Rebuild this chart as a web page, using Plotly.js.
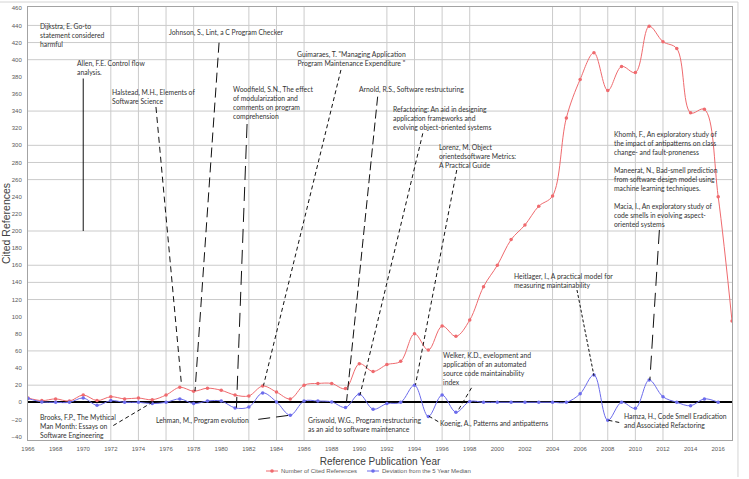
<!DOCTYPE html>
<html>
<head>
<meta charset="utf-8">
<script src="https://cdn.plot.ly/plotly-3.0.1.min.js"></script>
<style>
  html, body { margin: 0; padding: 0; background: #fff; }
  #chart { width: 749px; height: 479px; }
</style>
</head>
<body>
<div id="chart"></div>
<script>
// Publication years of the referenced works
const years = [
  1966, 1967, 1968, 1969, 1970, 1971, 1972, 1973, 1974, 1975,
  1976, 1977, 1978, 1979, 1980, 1981, 1982, 1983, 1984, 1985,
  1986, 1987, 1988, 1989, 1990, 1991, 1992, 1993, 1994, 1995,
  1996, 1997, 1998, 1999, 2000, 2001, 2002, 2003, 2004, 2005,
  2006, 2007, 2008, 2009, 2010, 2011, 2012, 2013, 2014, 2015,
  2016, 2017
];

// Number of cited references per publication year
const citedReferences = [
  5, 2, 4, 1.5, 8.5, 2, 6.5, 4, 5, 3,
  8.5, 17.5, 13, 16.5, 14, 8.5, 7.5, 19, 12, 4,
  20, 22, 22, 16, 45, 36, 44, 48, 80, 61,
  89, 77, 96, 135, 160, 190, 207, 229, 241, 332,
  377, 408, 364, 392, 385, 439, 421, 413, 338, 342,
  240, 95
];

// Deviation from the 5 year median (1966 - 2016)
const medianDeviation = [
  4.5, 0.5, 0, 0, 5, -3.5, 2, 0, 0, -1.5,
  0, 4, -1.5, 1.5, 1.5, -6.5, -5.5, 11, 0.5, -15,
  1.5, 1.5, 0.5, -6, 9.5, -8, -1.5, 0, 20, -16.5,
  8.5, -11.5, 1, 0, 0, 0, 0, 0, 0, 0,
  10, 32, -21, 0, -7, 26, 6.5, 0, -4, 4,
  0
];

const seriesNames = ['Number of Cited References', 'Deviation from the 5 Year Median'];

// Key publications called out on the chart
const noteTexts = {
  dijkstra:  'Dijkstra, E. Go-to<br>statement considered<br>harmful',
  allen:     'Allen, F.E. Control flow<br>analysis.',
  halstead:  'Halstead, M.H., Elements of<br>Software Science',
  johnson:   'Johnson, S., Lint, a C Program Checker',
  guimaraes: 'Guimaraes, T. "Managing Application<br>Program Maintenance Expenditure "',
  woodfield: 'Woodfield, S.N., The effect<br>of modularization and<br>comments on program<br>comprehension',
  arnold:    'Arnold, R.S., Software restructuring',
  refactor:  'Refactoring: An aid in designing<br>application frameworks and<br>evolving object-oriented systems',
  lorenz:    'Lorenz, M. Object<br>orientedsoftware Metrics:<br>A Practical Guide',
  khomh:     'Khomh, F., An exploratory study of<br>the impact of antipatterns on class<br>change- and fault-proneness',
  maneerat:  'Maneerat, N., Bad-smell prediction<br>from software design model using<br>machine learning techniques.',
  macia:     'Macia, I., An exploratory study of<br>code smells in evolving aspect-<br>oriented systems',
  heitlager: 'Heitlager, I., A practical model for<br>measuring maintainability',
  welker:    'Welker, K.D., evelopment and<br>application of an automated<br>source code maintainability<br>index',
  koenig:    'Koenig, A., Patterns and antipatterns',
  hamza:     'Hamza, H., Code Smell Eradication<br>and Associated Refactoring',
  brooks:    'Brooks, F.P., The Mythical<br>Man Month: Essays on<br>Software Engineering',
  lehman:    'Lehman, M., Program evolution',
  griswold:  'Griswold, W.G., Program restructuring<br>as an aid to software maintenance'
};

// ---- styling ----
const RED = '#ef6a6e';
const BLUE = '#6c6cec';
const GRID = '#cbcbcb';
const SANS = '"Liberation Sans", Arial, sans-serif';
const NOTE_FONT = { family: 'Lato, "Liberation Sans", sans-serif', size: 6.8, color: '#333333' };
const TICK_FONT = { family: SANS, size: 6, color: '#595959' };

// Label placement (year, value) of each call-out, anchored at its top edge
const notePlacement = [
  ['dijkstra', 1966.8, 445.7, 'left'],
  ['allen', 1969.45, 402, 'left'],
  ['halstead', 1972.0, 368, 'left'],
  ['johnson', 1976.15, 438.2, 'left'],
  ['guimaraes', 1989.45, 412.5, 'center'],
  ['woodfield', 1980.75, 371.6, 'left'],
  ['arnold', 1989.9, 371.6, 'left'],
  ['refactor', 1992.4, 348.3, 'left'],
  ['lorenz', 1995.7, 303.9, 'left'],
  ['khomh', 2008.4, 319.1, 'left'],
  ['maneerat', 2008.4, 277.6, 'left'],
  ['macia', 2008.4, 235.6, 'left'],
  ['heitlager', 2001.15, 153.3, 'left'],
  ['welker', 1996.0, 61.1, 'left'],
  ['koenig', 1995.8, -18.3, 'left'],
  ['hamza', 2009.1, -10.7, 'left'],
  ['brooks', 1966.8, -11.3, 'left'],
  ['lehman', 1975.2, -14.8, 'left'],
  ['griswold', 1986.2, -14.8, 'left']
];

const annotations = notePlacement.map(([key, x, y, anchor]) => ({
  text: noteTexts[key],
  x: x, y: y, xref: 'x', yref: 'y',
  xanchor: anchor, yanchor: 'top', align: anchor,
  showarrow: false, borderpad: 0,
  font: NOTE_FONT
}));

// Leader lines from each label to the year it refers to
const leaders = [
  [1970.0, 378, 1970.0, 200, 'solid'],
  [1975.27, 344.8, 1977.12, 20.2, '6px,4px'],
  [1979.84, 419.8, 1978.1, 13.2, '10px,5px'],
  [1981.87, 324.9, 1981.1, -6.3, '14px,7px'],
  [1988.67, 388, 1983.06, 19.6, '4px,3px'],
  [1991.33, 356.8, 1989.04, -5, '9px,4px'],
  [1994.6, 314, 1990.05, 8.5, '4px,3px'],
  [1997.06, 271.2, 1994.07, 20.5, '4px,3px'],
  [2011.74, 201.2, 2011.05, 26, '14px,7px'],
  [2005.77, 131.1, 2007.0, 31, '3px,2px'],
  [1998.13, 16.9, 1997.1, -11, '4px,3px'],
  [1995.72, -22.6, 1995.05, -16.3, '4px,3px'],
  [2008.05, -21, 2009.0, -24.1, '4px,3px'],
  [1972.18, -27.1, 1975.0, 0, '4px,3px'],
  [1982.68, -19.9, 1985.0, -15, '12px,6px']
];

// Grid lines drawn on the chart
const gridYears = [1972, 1974, 1976, 1978, 1982, 1984, 1986, 1992, 1994, 1996, 1998, 2004, 2006, 2008, 2010, 2012];
const gridValues = [440, 420, 400, 340, 300, 280, 260, 200, 160, 140, 120, 60, 20];

const shapes = [];
gridYears.forEach(yr => shapes.push({
  type: 'line', xref: 'x', yref: 'paper', x0: yr, x1: yr, y0: 0, y1: 1,
  line: { color: GRID, width: 1 }, layer: 'below'
}));
gridValues.forEach(v => shapes.push({
  type: 'line', xref: 'paper', yref: 'y', x0: 0, x1: 1, y0: v, y1: v,
  line: { color: GRID, width: 1 }, layer: 'below'
}));
leaders.forEach(([x0, y0, x1, y1, dash]) => shapes.push({
  type: 'line', xref: 'x', yref: 'y', x0, y0, x1, y1,
  line: { color: '#111111', width: 1, dash: dash }, layer: 'above'
}));
// chart area frame (top and right edges)
shapes.push({ type: 'line', xref: 'paper', yref: 'paper', x0: -0.04, x1: 1.0085, y0: 1.0115, y1: 1.0115,
  line: { color: '#d4d4d4', width: 1 } });
shapes.push({ type: 'line', xref: 'paper', yref: 'paper', x0: 1.0085, x1: 1.0085, y0: 1.0115, y1: -0.0855,
  line: { color: '#d4d4d4', width: 1 } });

// Compact key below the axis title: short line sample with a dot, then the series name
const PW = 704, PH = 433;            // plot area size in px
const keyY = -31 / PH;               // key row, 31px under the plot
const keyItems = [
  { name: seriesNames[0], color: RED, start: 238 },
  { name: seriesNames[1], color: BLUE, start: 339 }
];
keyItems.forEach(k => {
  const x0 = k.start / PW, x1 = (k.start + 12) / PW, xm = (k.start + 6) / PW;
  shapes.push({ type: 'line', xref: 'paper', yref: 'paper', x0, x1, y0: keyY, y1: keyY,
    line: { color: k.color, width: 1 } });
  shapes.push({ type: 'circle', xref: 'paper', yref: 'paper',
    x0: xm - 1.8 / PW, x1: xm + 1.8 / PW, y0: keyY - 1.8 / PH, y1: keyY + 1.8 / PH,
    fillcolor: k.color, line: { color: k.color, width: 0 } });
  annotations.push({ text: k.name, xref: 'paper', yref: 'paper',
    x: (k.start + 14) / PW, y: keyY, xanchor: 'left', yanchor: 'middle',
    showarrow: false, borderpad: 0, font: { family: SANS, size: 6, color: '#595959' } });
});

const traces = [
  {
    x: years, y: citedReferences, name: seriesNames[0],
    type: 'scatter', mode: 'lines+markers',
    line: { color: RED, width: 1, shape: 'spline', smoothing: 1 },
    marker: { color: RED, size: 3.5 }
  },
  {
    x: years, y: medianDeviation, name: seriesNames[1],
    type: 'scatter', mode: 'lines+markers',
    line: { color: BLUE, width: 1, shape: 'spline', smoothing: 1 },
    marker: { color: BLUE, size: 3.5 }
  }
];

const layout = {
  width: 749, height: 479,
  margin: { l: 28, r: 17, t: 7, b: 39, pad: 0, autoexpand: false },
  paper_bgcolor: '#ffffff', plot_bgcolor: '#ffffff',
  showlegend: false,
  xaxis: {
    range: [1966, 2017], tick0: 1966, dtick: 2,
    showgrid: false, zeroline: false,
    showline: true, mirror: true, linecolor: '#a3a3a3', linewidth: 1,
    ticks: 'outside', ticklen: 3, tickcolor: 'rgba(0,0,0,0)',
    tickfont: TICK_FONT, automargin: false,
    title: { text: 'Reference Publication Year', standoff: 6,
      font: { family: SANS, size: 10, color: '#404040' } }
  },
  yaxis: {
    range: [-44, 461.5], tick0: 0, dtick: 20,
    showgrid: false,
    zeroline: true, zerolinecolor: '#000000', zerolinewidth: 2,
    showline: true, mirror: true, linecolor: '#a3a3a3', linewidth: 1,
    ticks: 'outside', ticklen: 4, tickcolor: 'rgba(0,0,0,0)',
    tickfont: TICK_FONT, automargin: false,
    title: { text: 'Cited References', standoff: 2,
      font: { family: SANS, size: 10.5, color: '#404040' } }
  },
  shapes: shapes,
  annotations: annotations
};

Plotly.newPlot('chart', traces, layout, { displayModeBar: false, staticPlot: true });
</script>
</body>
</html>
